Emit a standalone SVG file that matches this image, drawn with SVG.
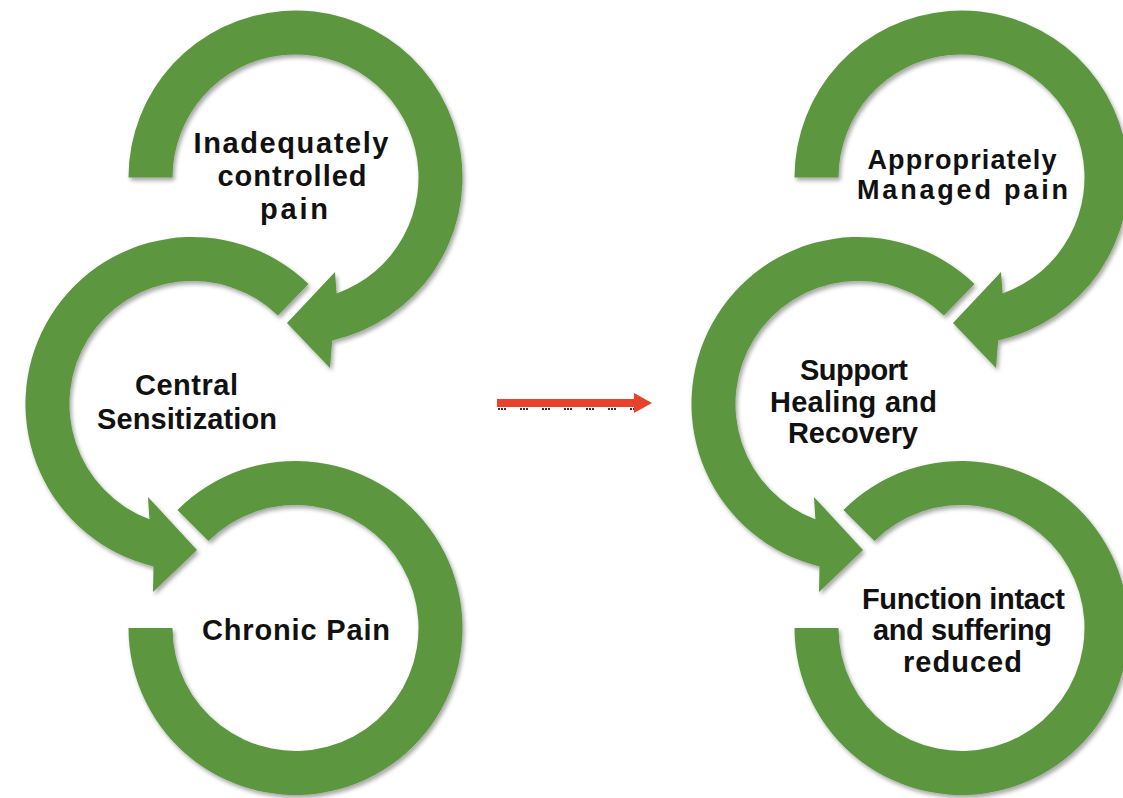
<svg xmlns="http://www.w3.org/2000/svg" width="1123" height="798" viewBox="0 0 1123 798">
<style>
.arc{fill:#5b9741;filter:url(#sh)}
.lbl{font-family:"Liberation Sans",Arial,sans-serif;font-weight:bold;font-size:29px;fill:#111;text-anchor:middle}
.sm{font-size:27px}
</style>
<defs>
<filter id="sh" x="-10%" y="-10%" width="120%" height="120%">
<feDropShadow dx="2" dy="3" stdDeviation="2" flood-color="#000" flood-opacity="0.35"/>
</filter>
</defs>
<rect width="1123" height="798" fill="#fff"/>
<g id="left-bottom">
<path class="arc" d="M128.5,628 A167,167 0 1 0 177.4,509.9 L208.5,541 A123,123 0 1 1 172.5,628 Z"/>
<text class="lbl" x="296" y="640" textLength="188" lengthAdjust="spacing">Chronic Pain</text>
</g>
<g id="left-middle">
<path class="arc" d="M308.5,283.9 A167,167 0 1 0 153.5,566.4 L153,592 L197,550 L148,497 L149.4,519.2 A123,123 0 1 1 277.9,315.5 Z"/>
<text class="lbl" x="186.5" y="395" textLength="103" lengthAdjust="spacing">Central</text>
<text class="lbl" x="187" y="429" textLength="180" lengthAdjust="spacing">Sensitization</text>
</g>
<g id="left-top">
<path class="arc" d="M128.5,177.5 A167,167 0 1 1 332.2,340.4 L330,368 L287,323 L335,272 L336.6,293.4 A123,123 0 1 0 172.5,177.5 Z"/>
<text class="lbl" x="291" y="153" textLength="195" lengthAdjust="spacing">Inadequately</text>
<text class="lbl" x="292" y="186" textLength="149" lengthAdjust="spacing">controlled</text>
<text class="lbl" x="294" y="219" textLength="68" lengthAdjust="spacing">pain</text>
</g>
<g id="right-bottom">
<path class="arc" transform="translate(666,0)" d="M128.5,628 A167,167 0 1 0 177.4,509.9 L208.5,541 A123,123 0 1 1 172.5,628 Z"/>
<text class="lbl" x="963.5" y="609" textLength="203" lengthAdjust="spacing">Function intact</text>
<text class="lbl" x="962.5" y="640" textLength="179" lengthAdjust="spacing">and suffering</text>
<text class="lbl" x="962.5" y="672" textLength="119" lengthAdjust="spacing">reduced</text>
</g>
<g id="right-middle">
<path class="arc" transform="translate(666,0)" d="M308.5,283.9 A167,167 0 1 0 153.5,566.4 L153,592 L197,550 L148,497 L149.4,519.2 A123,123 0 1 1 277.9,315.5 Z"/>
<text class="lbl" x="854" y="380" textLength="108" lengthAdjust="spacing">Support</text>
<text class="lbl" x="853.5" y="412" textLength="167" lengthAdjust="spacing">Healing and</text>
<text class="lbl" x="853" y="443" textLength="130" lengthAdjust="spacing">Recovery</text>
</g>
<g id="right-top">
<path class="arc" transform="translate(666,0)" d="M128.5,177.5 A167,167 0 1 1 332.2,340.4 L330,368 L287,323 L335,272 L336.6,293.4 A123,123 0 1 0 172.5,177.5 Z"/>
<text class="lbl sm" x="962" y="169" textLength="189" lengthAdjust="spacing">Appropriately</text>
<text class="lbl sm" x="962.5" y="199" textLength="211" lengthAdjust="spacing">Managed pain</text>
</g>
<g id="connectors">
<line x1="498" y1="409" x2="650" y2="409" stroke="#333" stroke-width="1.8" stroke-dasharray="2 1 2 1 2 14"/>
<path d="M497,399 L634,399 L634,393 L652,403 L634,413 L634,407 L497,407 Z" fill="#e8412c"/>
</g>
</svg>
